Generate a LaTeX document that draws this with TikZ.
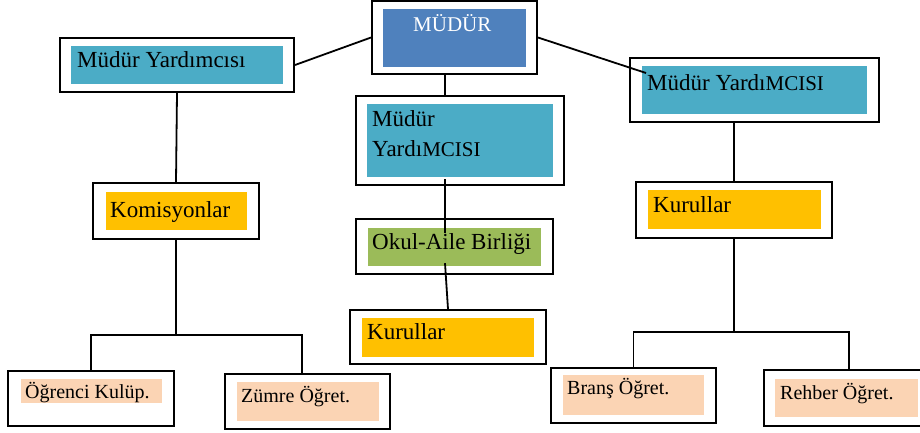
\documentclass[tikz,border=0pt]{standalone}
\usepackage{fontspec}
\setmainfont{Liberation Serif}

\definecolor{mudurblue}{HTML}{4F81BD}
\definecolor{yrdteal}{HTML}{4BACC6}
\definecolor{kurorange}{HTML}{FFC000}
\definecolor{okulgreen}{HTML}{9BBB59}
\definecolor{ogrpeach}{HTML}{FBD4B4}

\tikzset{
    framebox/.style={draw, line width=2pt, inner sep=0pt},
    fillbox/.style={inner sep=0pt, fill=#1},
    lbl/.style={inner sep=0pt, anchor=base west, font=\fontsize{23}{30}\selectfont},
    smalllbl/.style={lbl, font=\fontsize{20}{24}\selectfont},
    conn/.style={line width=1.8pt}
}

\begin{document}
\begin{tikzpicture}[x=1pt,y=-1pt]
    \useasboundingbox(0,0)rectangle(920,432);

    % frames
    \node[framebox, minimum width=165pt, minimum height=73pt](mudur)at(454.5,37.5){};
    \node[framebox, minimum width=234pt, minimum height=54pt](lmy)at(177,65){};
    \node[framebox, minimum width=208pt, minimum height=89pt](mmy)at(460,140.5){};
    \node[framebox, minimum width=249pt, minimum height=64pt](rmy)at(754.5,90){};
    \node[framebox, minimum width=166pt, minimum height=56pt](kom)at(176,211){};
    \node[framebox, minimum width=197pt, minimum height=55pt](okul)at(454.5,246.5){};
    \node[framebox, minimum width=196pt, minimum height=54pt](mkur)at(448,337){};
    \node[framebox, minimum width=196pt, minimum height=56pt](rkur)at(734,210){};
    \node[framebox, minimum width=166pt, minimum height=55pt](ogr)at(91,398.5){};
    \node[framebox, minimum width=165pt, minimum height=55pt](zum)at(307.5,401.5){};
    \node[framebox, minimum width=165pt, minimum height=55pt](brans)at(633.5,395.5){};
    \node[framebox, minimum width=160pt, minimum height=56pt](rehber)at(844,398){};

    % fills
    \node[fillbox=mudurblue, minimum width=143pt, minimum height=58pt](mudurf)at(454.5,38){};
    \node[fillbox=yrdteal, minimum width=212pt, minimum height=38pt](lmyf)at(177,65){};
    \node[fillbox=yrdteal, minimum width=186pt, minimum height=73pt](mmyf)at(460,140.5){};
    \node[fillbox=yrdteal, minimum width=225pt, minimum height=48pt](rmyf)at(754.5,90){};
    \node[fillbox=kurorange, minimum width=141pt, minimum height=38pt](komf)at(176.5,211){};
    \node[fillbox=okulgreen, minimum width=173pt, minimum height=38pt](okulf)at(454.5,247){};
    \node[fillbox=kurorange, minimum width=172pt, minimum height=39pt](mkurf)at(448,337.5){};
    \node[fillbox=kurorange, minimum width=173pt, minimum height=39pt](rkurf)at(734.5,209.5){};
    \node[fillbox=ogrpeach, minimum width=141pt, minimum height=24pt](ogrf)at(91.5,391){};
    \node[fillbox=ogrpeach, minimum width=142pt, minimum height=39pt](zumf)at(308,401.5){};
    \node[fillbox=ogrpeach, minimum width=141pt, minimum height=40pt](bransf)at(633.5,395){};
    \node[fillbox=ogrpeach, minimum width=143pt, minimum height=38pt](rehberf)at(846.5,398){};

    % texts
    \node[lbl, text=white, font=\fontsize{21}{24}\selectfont](mudurt)at(413,31){MÜDÜR};
    \node[lbl](lmyt)at(77,67){Müdür Yardımcısı};
    \node[lbl, align=left](mmyt)at(372,156){Müdür\\Yardı{\fontsize{21}{24}\selectfont MCISI}};
    \node[lbl](rmyt)at(647,90){Müdür Yardı{\fontsize{21}{24}\selectfont MCISI}};
    \node[lbl](komt)at(110,217){Komisyonlar};
    \node[lbl](okult)at(372,249){Okul-Aile Birliği};
    \node[lbl](mkurt)at(367,339){Kurullar};
    \node[lbl](rkurt)at(653,212){Kurullar};
    \node[smalllbl](ogrt)at(25,398){Öğrenci Kulüp.};
    \node[smalllbl](zumt)at(241,402){Zümre Öğret.};
    \node[smalllbl](branst)at(567,394){Branş Öğret.};
    \node[smalllbl](rehbert)at(780,399){Rehber Öğret.};

    % links
    \coordinate(rmyin)at(646,73);
    \coordinate(lbus)at(176,335);
    \coordinate(rbus)at(734,332);
    \draw[conn](lmy.east)--(mudur.west);
    \draw[conn](mudur.east)--(rmyin);
    \draw[conn]([xshift=-9.5pt]mudur.south)--([xshift=-15pt]mmy.north);
    \draw[conn]([xshift=-15pt,yshift=-2pt]mmyf.south)--([xshift=-9.5pt,yshift=-5pt]okulf.north);
    \draw[conn]([xshift=-9.5pt,yshift=3pt]okulf.south)--(mkur.north);
    \draw[conn](lmy.south)--(kom.north);
    \draw[conn](kom.south)--(lbus);
    \draw[conn](ogr.north)|-(lbus)-|([xshift=-5.5pt]zum.north);
    \draw[conn](rmy.south-|rkur.north)--(rkur.north);
    \draw[conn](rkur.south)--(rbus);
    \draw[conn](brans.north)|-(rbus)-|([xshift=5pt]rehber.north);
\end{tikzpicture}
\end{document}
